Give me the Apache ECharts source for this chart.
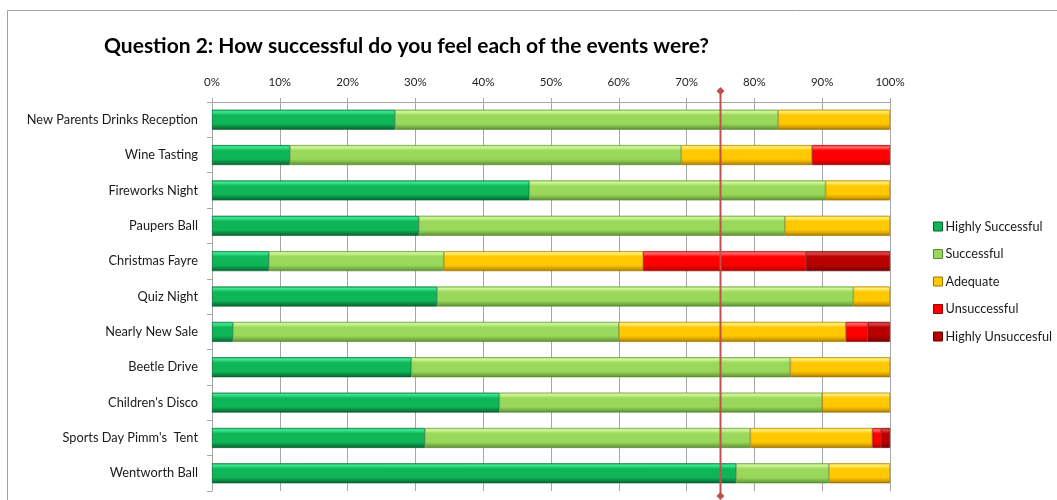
<!DOCTYPE html>
<html>
<head>
<meta charset="utf-8">
<script src="https://cdn.jsdelivr.net/npm/echarts@6/dist/echarts.min.js"></script>
<style>
  html, body { margin: 0; padding: 0; background: #fff; }
  #main { width: 1057px; height: 500px; }
</style>
</head>
<body>
<div id="main"></div>
<script>
// events, top to bottom
const events = [
  'New Parents Drinks Reception', 'Wine Tasting', 'Fireworks Night', 'Paupers Ball',
  'Christmas Fayre', 'Quiz Night', 'Nearly New Sale', 'Beetle Drive',
  "Children's Disco", "Sports Day Pimm's  Tent", 'Wentworth Ball'
]

// percentages per answer
const highlySuccessful   = [27.0, 11.5, 46.8, 30.5, 8.4, 33.2, 3.1, 29.4, 42.4, 31.4, 77.3]
const successful         = [56.5, 57.7, 43.7, 54.0, 25.8, 61.4, 56.9, 55.9, 47.6, 48.0, 13.7]
const adequate           = [16.5, 19.3, 9.5, 15.5, 29.4, 5.4, 33.5, 14.7, 10.0, 18.0, 9.0]
const unsuccessful       = [0, 11.5, 0, 0, 24.0, 0, 3.2, 0, 0, 1.3, 0]
const highlyUnsuccessful = [0, 0, 0, 0, 12.4, 0, 3.3, 0, 0, 1.3, 0]

const xTicks = [0, 10, 20, 30, 40, 50, 60, 70, 80, 90, 100]
const targetLine = 75

const seriesDefs = [
  { name: 'Highly Successful', data: highlySuccessful, c: ['#3fe894', '#0fb657', '#0a8a42', '#06602d'] },
  { name: 'Successful', data: successful, c: ['#d2f79a', '#9ad85c', '#7bb347', '#5a8a32'] },
  { name: 'Adequate', data: adequate, c: ['#fff07a', '#ffc800', '#d9a300', '#9a7400'] },
  { name: 'Unsuccessful', data: unsuccessful, c: ['#ff7070', '#ff0000', '#d60000', '#9a0000'] },
  { name: 'Highly Unsuccesful', data: highlyUnsuccessful, c: ['#dc4a4a', '#b80000', '#960000', '#640000'] }
]

function bevel (c) {
  return new echarts.graphic.LinearGradient(0, 0, 0, 1, [
    { offset: 0, color: c[1] },
    { offset: 0.1, color: c[0] },
    { offset: 0.28, color: c[1] },
    { offset: 0.7, color: c[1] },
    { offset: 0.86, color: c[2] },
    { offset: 1, color: c[3] }
  ])
}

const font = 'Lato, "Open Sans", sans-serif'

let myChart = echarts.init(document.getElementById('main'))

const series = seriesDefs.map(s => ({
  name: s.name,
  type: 'bar',
  stack: 'total',
  barWidth: 20,
  data: s.data.map(v => (v === 0 ? null : v)),
  itemStyle: { color: bevel(s.c), borderColor: s.c[3], borderWidth: 0.6 }
}))

series.push({
  name: 'target',
  type: 'line',
  yAxisIndex: 1,
  data: [[targetLine, 0], [targetLine, 1]],
  symbol: 'diamond',
  symbolSize: 8,
  clip: false,
  silent: true,
  lineStyle: { color: '#c0504d', width: 2 },
  itemStyle: { color: '#c0504d' },
  z: 5
})

myChart.setOption({
  animation: false,
  textStyle: { fontFamily: font },
  graphic: [
    { type: 'rect', shape: { x: 7.5, y: 10.5, width: 1200, height: 600 }, style: { fill: 'none', stroke: '#a0a0a0', lineWidth: 1 } }
  ],
  title: {
    text: 'Question 2: How successful do you feel each of the events were?',
    left: 99,
    top: 31,
    textStyle: { fontFamily: font, fontSize: 21, fontWeight: 'bold', color: '#000' }
  },
  legend: {
    orient: 'vertical',
    left: 928,
    top: 215,
    itemWidth: 9,
    itemHeight: 9,
    itemGap: 14.5,
    icon: 'rect',
    data: seriesDefs.map(s => ({ name: s.name, itemStyle: { color: s.c[1], borderColor: s.c[3], borderWidth: 1 } })),
    textStyle: { fontFamily: font, fontSize: 12.7, color: '#1a1a1a', padding: [0, 0, 0, -2] }
  },
  grid: { left: 212, right: 167, top: 102, bottom: 9, containLabel: false },
  xAxis: {
    type: 'value',
    position: 'top',
    min: xTicks[0],
    max: xTicks[xTicks.length - 1],
    interval: 10,
    axisLine: { show: true, lineStyle: { color: '#a6a6a6' } },
    axisTick: { show: true, length: 4, lineStyle: { color: '#a6a6a6' } },
    axisLabel: { formatter: '{value}%', fontSize: 11.5, color: '#222', margin: 14, fontFamily: font },
    splitLine: { show: true, lineStyle: { color: '#a6a6a6', width: 1 } }
  },
  yAxis: [
    {
      type: 'category',
      inverse: true,
      data: events,
      axisLine: { show: true, lineStyle: { color: '#a6a6a6' } },
      axisTick: { show: true, length: 5, lineStyle: { color: '#a6a6a6' } },
      axisLabel: { fontSize: 12.8, color: '#1a1a1a', margin: 14, fontFamily: font }
    },
    { type: 'value', min: 0.0124, max: 0.9728, show: false }
  ],
  series: series
})
</script>
</body>
</html>
